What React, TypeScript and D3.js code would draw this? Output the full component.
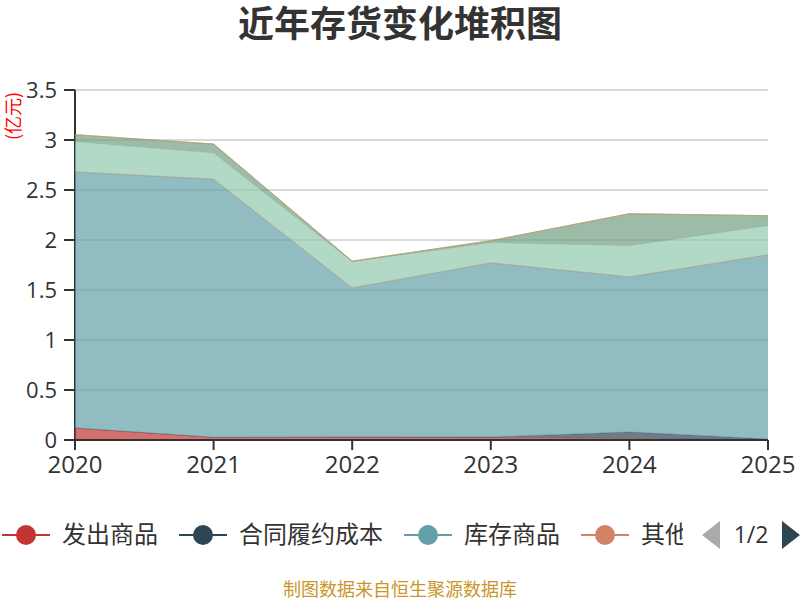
import React from "react";
import * as d3 from "d3";

const years = ["2020", "2021", "2022", "2023", "2024", "2025"];
const seriesNames = ["发出商品", "合同履约成本", "库存商品", "其他", "原材料", "在产品", "周转材料", "委托加工物资"];
const seriesColors = ["#c23531", "#2f4554", "#61a0a8", "#d48265", "#91c7ae", "#749f83", "#ca8622", "#bda29a"];
const 发出商品 = [0.12, 0.027, 0.03, 0.025, 0.015, 0.003];
const 合同履约成本 = [0, 0, 0, 0.005, 0.065, 0.007];
const 库存商品 = [2.56, 2.58, 1.49, 1.74, 1.55, 1.84];
const 其他 = [0.003, 0.003, 0.003, 0.003, 0.003, 0.003];
const 原材料 = [0.3, 0.26, 0.26, 0.2, 0.31, 0.29];
const 在产品 = [0.07, 0.09, 0.005, 0.02, 0.32, 0.1];
const 周转材料 = [0, 0, 0, 0, 0, 0];
const 委托加工物资 = [0, 0, 0, 0, 0, 0];
const yTicks = [0, 0.5, 1, 1.5, 2, 2.5, 3, 3.5];
const legendCount = 4;

const allSeries = [发出商品, 合同履约成本, 库存商品, 其他, 原材料, 在产品, 周转材料, 委托加工物资];

export default function App() {
  const W = 800, H = 600;
  const left = 75, right = 768, top = 90, bottom = 440;
  const x = d3.scalePoint<string>().domain(years).range([left, right]);
  const y = d3.scaleLinear().domain([0, 3.5]).range([bottom, top]);

  const table = years.map((yr, i) => {
    const row: any = { year: yr };
    seriesNames.forEach((n, k) => (row[n] = allSeries[k][i]));
    return row;
  });
  const stacked = d3.stack<any>().keys(seriesNames)(table);
  const area = d3
    .area<any>()
    .x((d) => x(d.data.year)!)
    .y0((d) => y(d[0]))
    .y1((d) => y(d[1]));
  const line = d3
    .line<any>()
    .x((d) => x(d.data.year)!)
    .y((d) => y(d[1]));

  const numFont = "'Open Sans', 'Noto Sans CJK SC', sans-serif";
  const cjkFont = "'Noto Sans CJK SC', sans-serif";

  // legend layout
  const legendFont = 24;
  let lx = 2;
  const legendItems = seriesNames.slice(0, legendCount).map((n, i) => {
    const item = { name: n, color: seriesColors[i], x: lx };
    lx = lx + 60 + n.length * legendFont + 21;
    return item;
  });
  const ly = 535;

  return (
    <svg width={W} height={H} style={{ position: "absolute", left: 0, top: 0, background: "#fff" }}>
      <defs>
        <clipPath id="legclip">
          <rect x={0} y={500} width={683} height={80} />
        </clipPath>
      </defs>
      <text x={400} y={37} textAnchor="middle" fontFamily={cjkFont} fontWeight="bold" fontSize={36} fill="#333">
        近年存货变化堆积图
      </text>
      {/* grid */}
      {yTicks.map((t) => (
        <line key={"g" + t} x1={left} x2={right} y1={y(t)} y2={y(t)} stroke="#ccc" strokeWidth={1.5} />
      ))}
      {/* y axis */}
      <line x1={left} x2={left} y1={top} y2={bottom} stroke="#333" strokeWidth={2} />
      {yTicks.map((t) => (
        <g key={"yt" + t}>
          <line x1={left - 11} x2={left} y1={y(t)} y2={y(t)} stroke="#333" strokeWidth={2} />
          <text x={left - 18} y={y(t)} dy="0.35em" textAnchor="end" fontFamily={numFont} fontSize={22} fill="#333">
            {String(t)}
          </text>
        </g>
      ))}
      <text
        transform="translate(20,116) rotate(-90)"
        textAnchor="middle"
        fontFamily={cjkFont}
        fontSize={18}
        fill="#ff0000"
      >
        (亿元)
      </text>
      {/* areas */}
      {stacked.map((s, k) => (
        <g key={"s" + k}>
          <path d={area(s as any)!} fill={seriesColors[k]} fillOpacity={0.7} />
          <path d={line(s as any)!} fill="none" stroke={seriesColors[k]} strokeWidth={0.6} strokeOpacity={0.8} />
        </g>
      ))}
      {/* x axis */}
      <line x1={left} x2={right} y1={bottom} y2={bottom} stroke="#333" strokeWidth={2} />
      {years.map((yr) => (
        <g key={"xt" + yr}>
          <line x1={x(yr)} x2={x(yr)} y1={bottom} y2={bottom + 10} stroke="#333" strokeWidth={2} />
          <text x={x(yr)} y={bottom + 25} dy="0.35em" textAnchor="middle" fontFamily={numFont} fontSize={24} fill="#333">
            {yr}
          </text>
        </g>
      ))}
      {/* legend */}
      <g clipPath="url(#legclip)">
        {legendItems.map((it) => (
          <g key={it.name}>
            <line x1={it.x} x2={it.x + 48} y1={ly} y2={ly} stroke={it.color} strokeWidth={2} />
            <circle cx={it.x + 24} cy={ly} r={10} fill={it.color} />
            <text x={it.x + 60} y={ly} dy="0.35em" fontFamily={cjkFont} fontSize={legendFont} fill="#333">
              {it.name}
            </text>
          </g>
        ))}
      </g>
      <path d="M720,521 L702,535 L720,549 Z" fill="#aaa" />
      <text x={751} y={ly} dy="0.35em" textAnchor="middle" fontFamily={numFont} fontSize={23} fill="#333">
        1/2
      </text>
      <path d="M782,521 L800,535 L782,549 Z" fill="#2f4554" />
      <text x={400} y={590} textAnchor="middle" dy="0.35em" fontFamily={cjkFont} fontSize={18} fill="#c9962b">
        制图数据来自恒生聚源数据库
      </text>
    </svg>
  );
}
